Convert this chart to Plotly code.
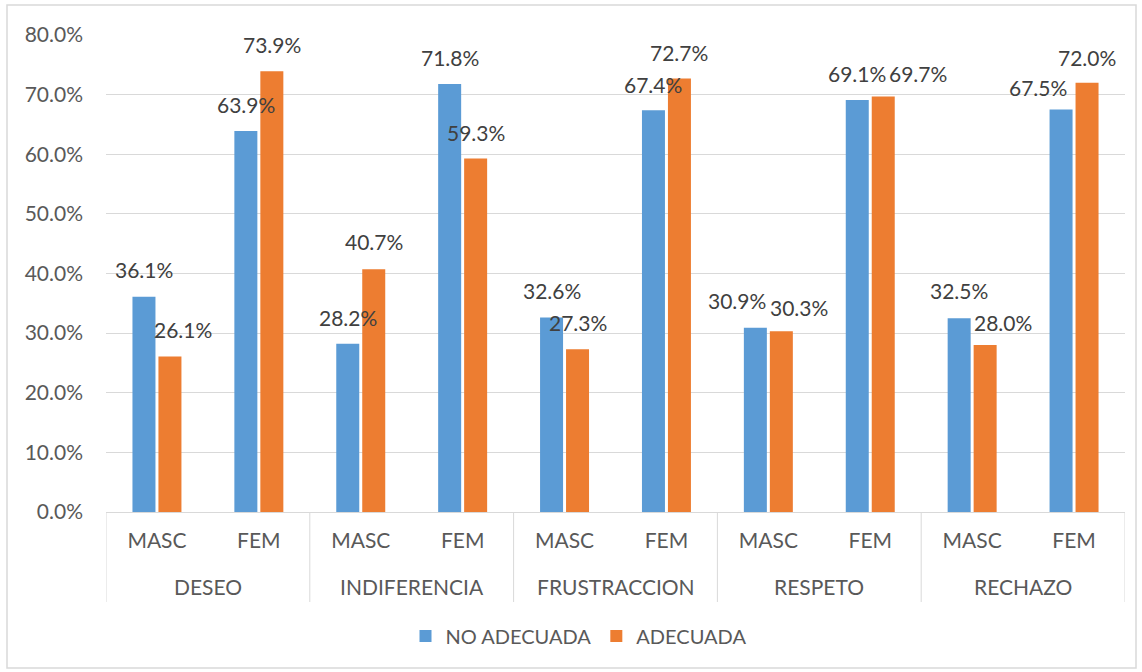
import plotly.graph_objects as go

groups = ["DESEO", "INDIFERENCIA", "FRUSTRACCION", "RESPETO", "RECHAZO"]
sexes = ["MASC", "FEM"]
no_adecuada = [0.361, 0.639, 0.282, 0.718, 0.326, 0.674, 0.309, 0.691, 0.325, 0.675]
adecuada = [0.261, 0.739, 0.407, 0.593, 0.273, 0.727, 0.303, 0.697, 0.280, 0.720]
series_names = ["NO ADECUADA", "ADECUADA"]
colors = ["#5B9BD5", "#ED7D31"]

# label placement (pixel nudges, as dragged in the original chart)
label_dx = [[0, 0, 0, 0, 0, 0, -18, 0, 0, -23],
            [13, 0, 0, 0, 0, 0, 18, 35, 18, 0]]
label_dy = [[27, 27, 26.7, 26, 26.8, 26, 27, 26.7, 27.4, 22.3],
            [27.2, 26.7, 27.6, 26, 27.2, 25.7, 24, 23, 22.5, 25.2]]

sub_labels = [s for _ in groups for s in sexes]
pos = list(range(len(sub_labels)))
n_sub = len(sexes)

W, H = 1142, 672
L, R, T, B = 106, 17, 35, 160
pw, ph = W - L - R, H - T - B
FONT = "Lato"
TXT = "#595959"
LBL = "#404040"
GRID = "#D9D9D9"
FS = 21
BARGAP = 0.49
slot = pw / len(sub_labels)
half = slot * (1 - BARGAP) / 4  # centre of each bar relative to the slot centre

def px(xs):
    return (xs - L) / pw

def py(ys):
    return (H - B - ys) / ph

fig = go.Figure()
for i, (name, vals) in enumerate(zip(series_names, [no_adecuada, adecuada])):
    fig.add_trace(go.Bar(
        x=pos, y=vals, name=name, marker=dict(color=colors[i], line=dict(width=0)),
    ))

annotations = []
for s, vals in enumerate([no_adecuada, adecuada]):
    sign = -1 if s == 0 else 1
    for k, v in enumerate(vals):
        annotations.append(dict(
            x=pos[k], y=v, xref="x", yref="y", text=f"{v*100:.1f}%", showarrow=False,
            xanchor="center", yanchor="middle",
            xshift=sign * half + label_dx[s][k], yshift=label_dy[s][k],
            font=dict(family=FONT, size=FS, color=LBL),
        ))
# group (outer category) labels
for g, name in enumerate(groups):
    annotations.append(dict(
        x=g * n_sub + (n_sub - 1) / 2, y=py(586), xref="x", yref="paper",
        text=name, showarrow=False, xanchor="center", yanchor="middle",
        font=dict(family=FONT, size=FS, color=TXT),
    ))

shapes = [dict(type="rect", xref="paper", yref="paper",
               x0=px(7), x1=px(1136), y0=py(668), y1=py(5),
               line=dict(color=GRID, width=1.5), fillcolor="rgba(0,0,0,0)", layer="below")]
for g in range(len(groups) + 1):
    shapes.append(dict(type="line", xref="x", yref="paper",
                       x0=g * n_sub - 0.5, x1=g * n_sub - 0.5, y0=0, y1=py(602),
                       line=dict(color=GRID, width=1)))

fig.update_layout(
    width=W, height=H,
    margin=dict(l=L, r=R, t=T, b=B),
    paper_bgcolor="white", plot_bgcolor="white",
    barmode="group", bargap=BARGAP, bargroupgap=0.115,
    font=dict(family=FONT, size=FS, color=TXT),
    showlegend=True,
    legend=dict(orientation="h", x=px(578.5), xanchor="center", y=py(636), yanchor="middle",
                font=dict(family=FONT, size=20, color=TXT),
                traceorder="normal"),
    xaxis=dict(range=[-0.5, len(pos) - 0.5], tickmode="array", tickvals=pos, ticktext=sub_labels,
               showline=True, linecolor=GRID, linewidth=1, ticks="", showgrid=False,
               zeroline=False, ticklabelstandoff=10,
               tickfont=dict(family=FONT, size=FS, color=TXT)),
    yaxis=dict(range=[0, 0.8], dtick=0.1, tickformat=".1%", showgrid=True,
               gridcolor=GRID, gridwidth=1, zeroline=False, showline=False,
               tickfont=dict(family=FONT, size=FS, color=TXT), ticks="",
               ticklabelstandoff=22),
    annotations=annotations,
    shapes=shapes,
)

fig.write_html("out.html", config={"displayModeBar": False},
               post_script="document.body.style.margin='0px';")
